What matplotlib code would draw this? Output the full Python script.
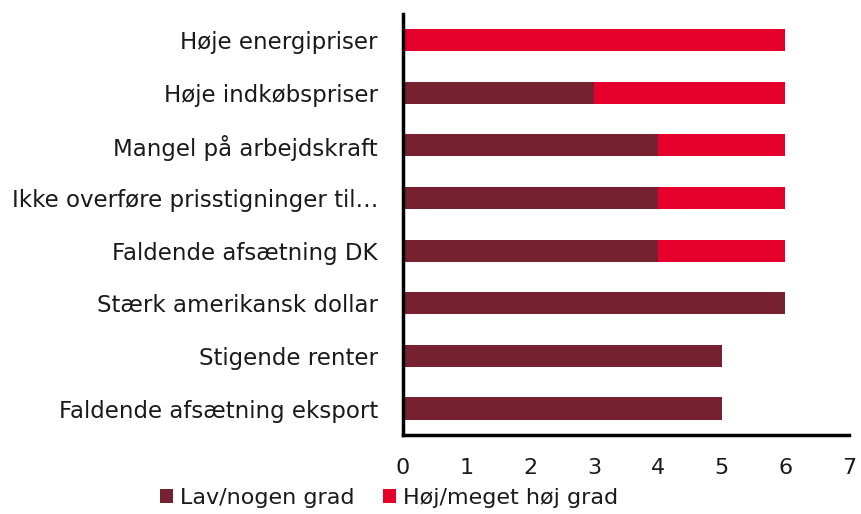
import matplotlib
matplotlib.use("Agg")
import matplotlib.pyplot as plt

categories = ["Høje energipriser", "Høje indkøbspriser", "Mangel på arbejdskraft",
              "Ikke overføre prisstigninger til…", "Faldende afsætning DK",
              "Stærk amerikansk dollar", "Stigende renter", "Faldende afsætning eksport"]
lav = [0, 3, 4, 4, 4, 6, 5, 5]
hoej = [6, 3, 2, 2, 2, 0, 0, 0]
ticks = [0, 1, 2, 3, 4, 5, 6, 7]

dark, red = "#76212F", "#E4002B"

plt.rcParams["font.family"] = ["DejaVu Sans"]
fig = plt.figure(figsize=(8.61, 5.14), dpi=100)
ax = fig.add_axes([0.468, 0.154, 0.518, 0.819])

y = list(range(len(categories)))
ax.barh(y, lav, height=0.42, color=dark, label="Lav/nogen grad")
ax.barh(y, hoej, left=lav, height=0.42, color=red, label="Høj/meget høj grad")

ax.set_ylim(len(categories) - 0.5, -0.5)
ax.set_xlim(0, 7)
ax.set_xticks(ticks)
ax.set_yticks(y)
ax.set_yticklabels(categories, fontsize=16.5, color="#1a1a1a")
ax.tick_params(axis="both", length=0)
ax.tick_params(axis="y", pad=18)
ax.tick_params(axis="x", pad=17, labelsize=16, labelcolor="#1a1a1a")
for s in ["top", "right"]:
    ax.spines[s].set_visible(False)
for s in ["left", "bottom"]:
    ax.spines[s].set_linewidth(2.5)

fig.legend(loc="lower left", bbox_to_anchor=(0.175, -0.005), ncol=2, frameon=False,
           fontsize=16, handlelength=0.6, handleheight=0.6, handletextpad=0.3,
           columnspacing=1.3, borderaxespad=0, labelcolor="#1a1a1a")

fig.savefig("out.png", dpi=100)
